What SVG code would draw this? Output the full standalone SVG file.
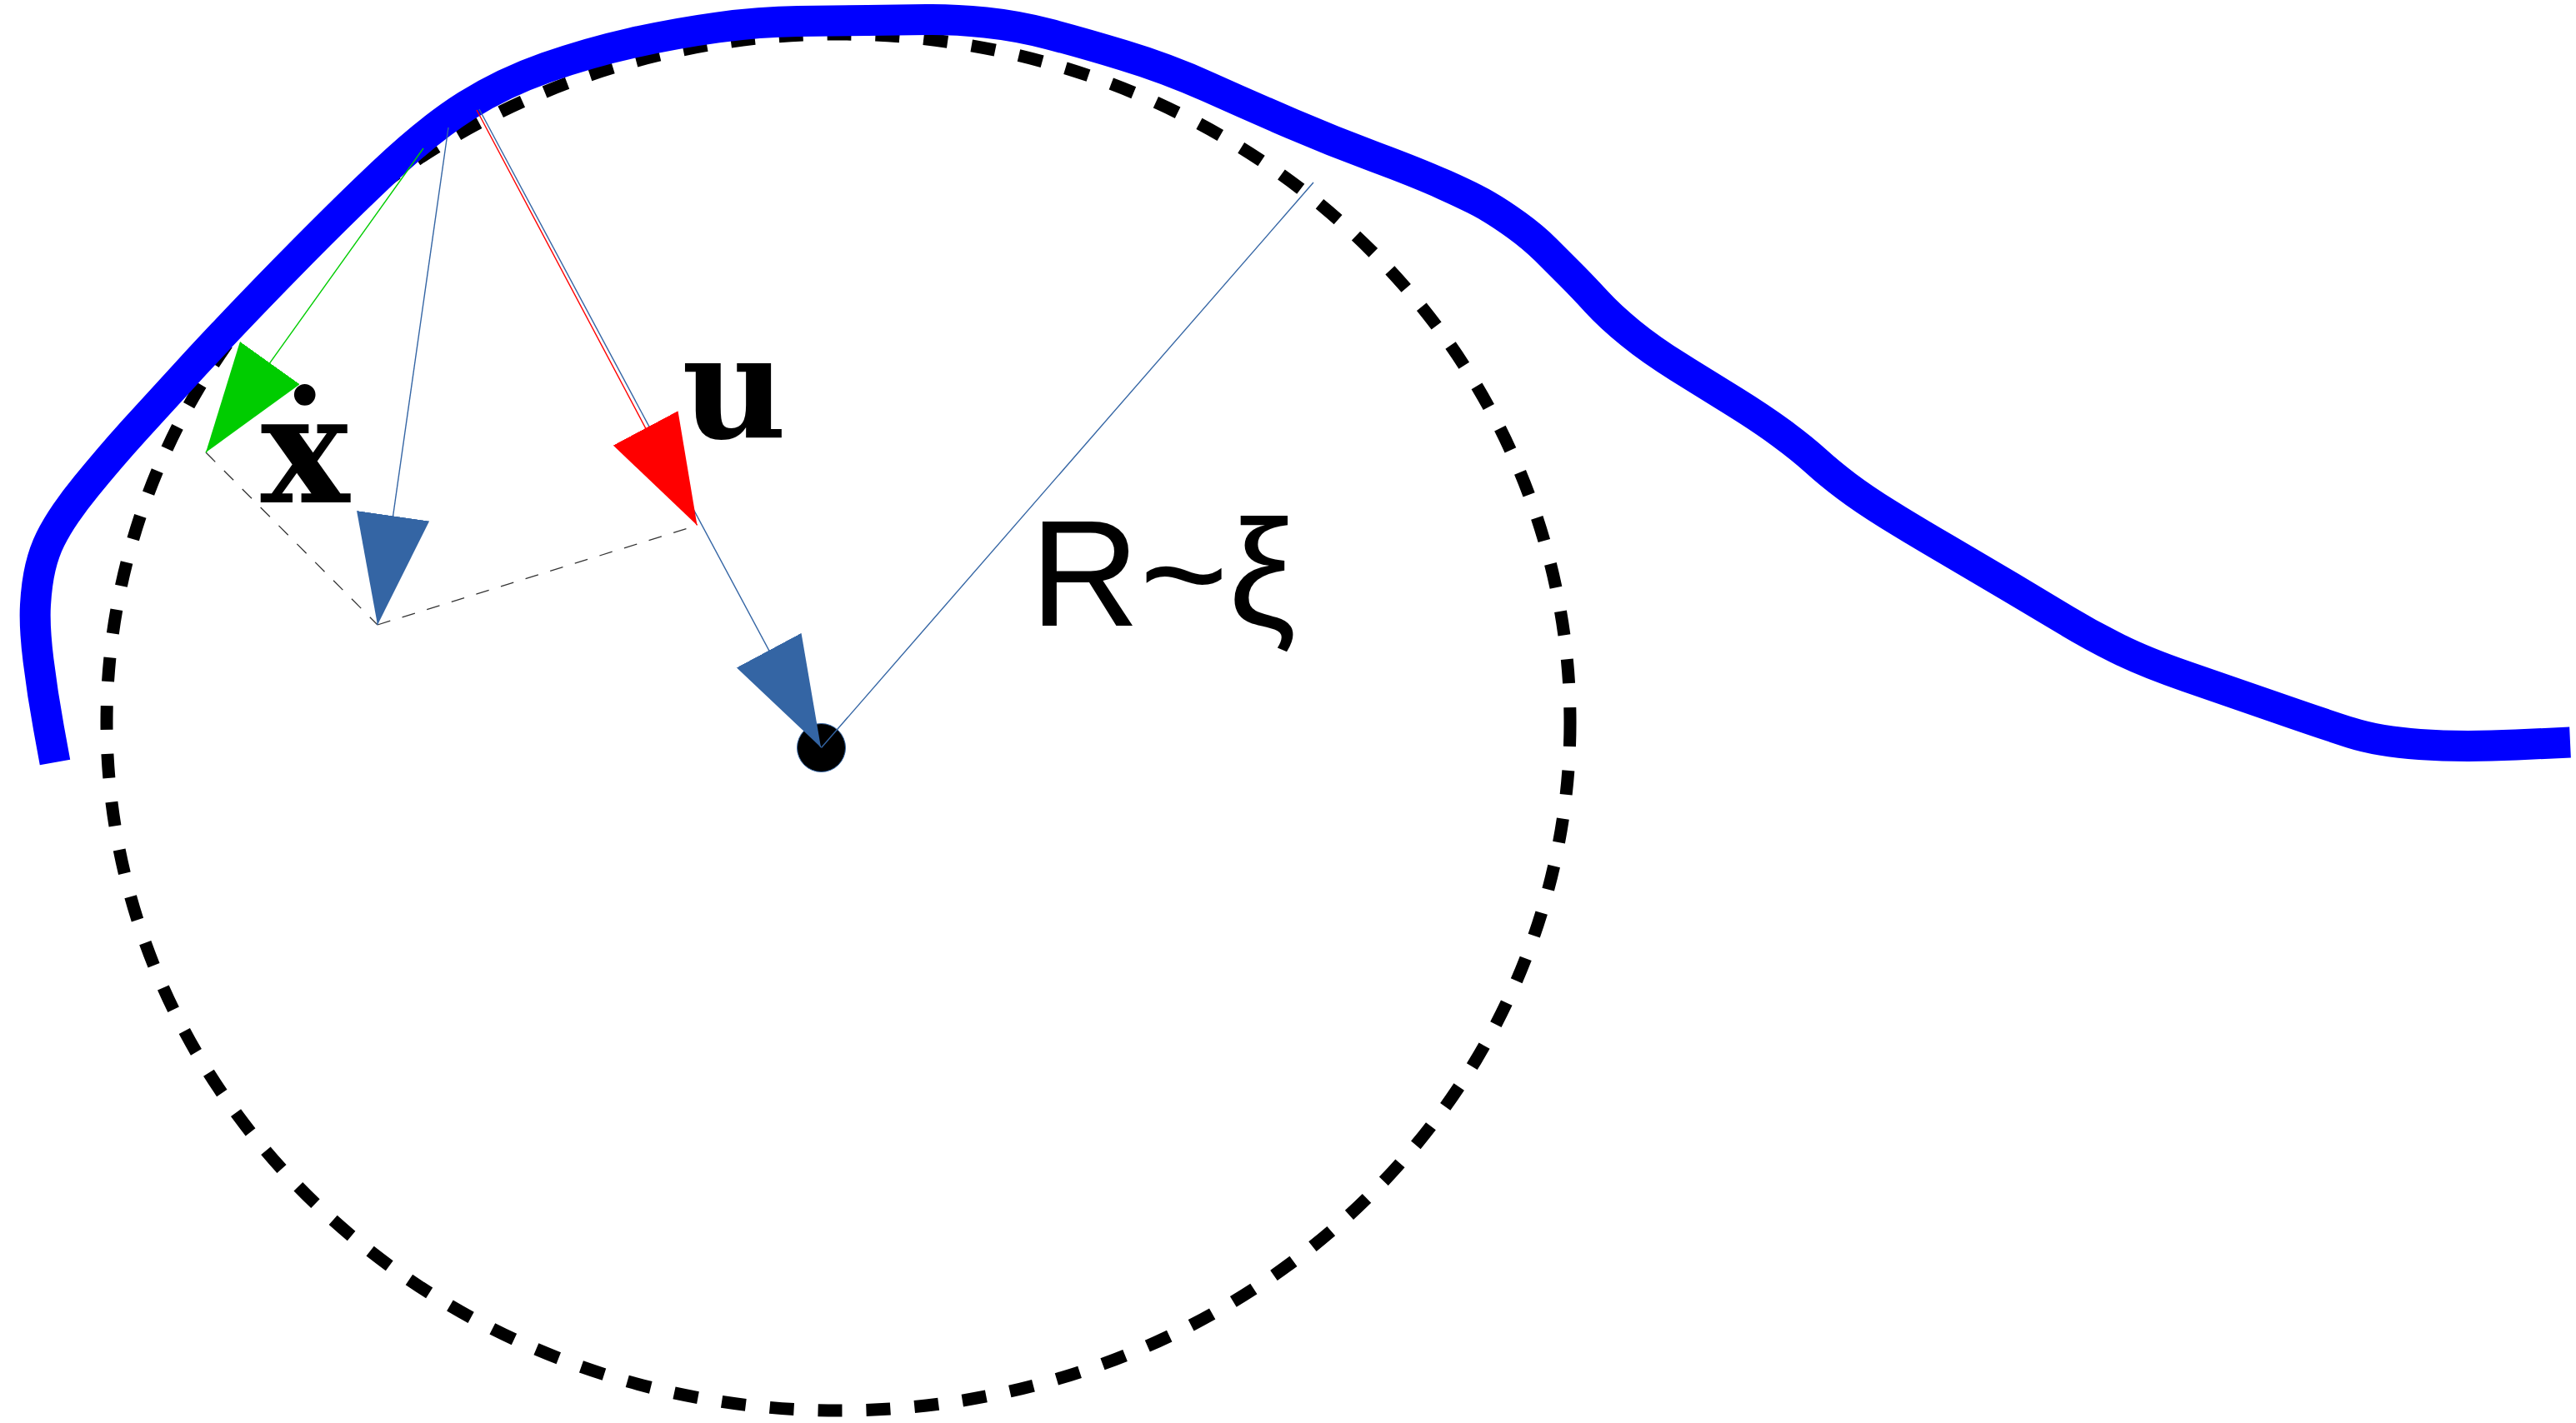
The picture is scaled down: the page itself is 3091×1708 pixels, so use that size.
<svg xmlns="http://www.w3.org/2000/svg" width="3091" height="1708" viewBox="0 0 3091 1708">
  <style>
    .thin { fill: none; stroke-width: 1.4; }
    .guide { fill: none; stroke: #333333; stroke-width: 1.3; stroke-dasharray: 16 15; }
    .bold-serif { font-family: "DejaVu Serif", "Liberation Serif", serif; font-weight: bold; fill: #000; }
    .sans { font-family: "Liberation Sans", Arial, sans-serif; font-size: 182px; fill: #000; }
  </style>
  <defs>
    <marker id="ah-green" markerUnits="userSpaceOnUse" viewBox="0 0 132 88" refX="132" refY="44" markerWidth="132" markerHeight="88" orient="auto">
      <path d="M132,44 L0,0 L0,88 Z" fill="#00CC00"/>
    </marker>
    <marker id="ah-red" markerUnits="userSpaceOnUse" viewBox="0 0 132 88" refX="132" refY="44" markerWidth="132" markerHeight="88" orient="auto">
      <path d="M132,44 L0,0 L0,88 Z" fill="#FF0000"/>
    </marker>
    <marker id="ah-blue" markerUnits="userSpaceOnUse" viewBox="0 0 132 88" refX="132" refY="44" markerWidth="132" markerHeight="88" orient="auto">
      <path d="M132,44 L0,0 L0,88 Z" fill="#3465A4"/>
    </marker>
  </defs>
  <rect width="3091" height="1708" fill="#FFFFFF"/>

  <g id="circle">
    <ellipse cx="1006" cy="867" rx="878" ry="826" fill="none" stroke="#000000" stroke-width="15" stroke-dasharray="29 29"/>
  </g>

  <g id="boundary">
    <path fill="none" stroke="#0000FF" stroke-width="37" stroke-linecap="butt" stroke-linejoin="round" d="M66,915 L58.5,874 Q51,833 46,792.5 Q41,752 42.5,726 Q44,700 48.5,681 Q53,662 60.5,647 Q68,632 79,616 Q90,600 103.5,583.5 Q117,567 131.5,550 Q146,533 161,516.5 Q176,500 225.5,446 Q275,392 340,325.5 Q405,259 460,207 Q515,155 559.5,127 Q604,99 655.5,81 Q707,63 758.5,51.5 Q810,40 861,33 Q912,26 957.5,25.5 Q1003,25 1041,24.5 Q1079,24 1111.5,23.5 Q1144,23 1182.5,27 Q1221,31 1259,41 Q1297,51 1348.5,66.5 Q1400,82 1450,104.5 Q1500,127 1550,148.5 Q1600,170 1650,188.5 Q1700,207 1733.5,222 Q1767,237 1783.5,246.5 Q1800,256 1820,270.5 Q1840,285 1855,300 Q1870,315 1884.5,329.5 Q1899,344 1915.5,362 Q1932,380 1956.5,400 Q1981,420 2014,440.5 Q2047,461 2080,481.5 Q2113,502 2137.5,520 Q2162,538 2178.5,553 Q2195,568 2215.5,583.5 Q2236,599 2265,617 Q2294,635 2335,659 Q2376,683 2413,705 Q2450,727 2479,744.5 Q2508,762 2541,778.5 Q2574,795 2623.5,812 Q2673,829 2730.5,849 Q2788,869 2821,879.5 Q2854,890 2903.5,893.5 Q2953,897 3019,894 L3084,891"/>
  </g>

  <g id="center-dot">
    <circle cx="985.5" cy="897.5" r="29" fill="#000000" stroke="#3465A4" stroke-width="1"/>
  </g>

  <g id="connectors">
    <line class="guide" x1="247" y1="543" x2="453" y2="750"/>
    <line class="guide" x1="453" y1="750" x2="836.5" y2="630.5"/>
    <line class="thin" stroke="#3465A4" x1="985.5" y1="897.5" x2="1576" y2="219"/>
    <line class="thin" stroke="#3465A4" x1="575" y1="131" x2="985" y2="897" marker-end="url(#ah-blue)"/>
    <line class="thin" stroke="#3465A4" x1="538" y1="153" x2="453" y2="750" marker-end="url(#ah-blue)"/>
    <line class="thin" stroke="#00CC00" x1="508" y1="178" x2="247" y2="543" marker-end="url(#ah-green)"/>
    <line class="thin" stroke="#FF0000" x1="572" y1="132" x2="836.5" y2="630.5" marker-end="url(#ah-red)"/>
  </g>

  <g id="label-xdot">
    <text class="bold-serif" font-size="179" x="366" y="603" text-anchor="middle">ẋ</text>
  </g>
  <g id="label-u">
    <text class="bold-serif" font-size="173" x="881" y="526" text-anchor="middle">u</text>
  </g>
  <g id="label-r">
    <text class="sans" x="1236" y="751">R~ξ</text>
  </g>
</svg>
